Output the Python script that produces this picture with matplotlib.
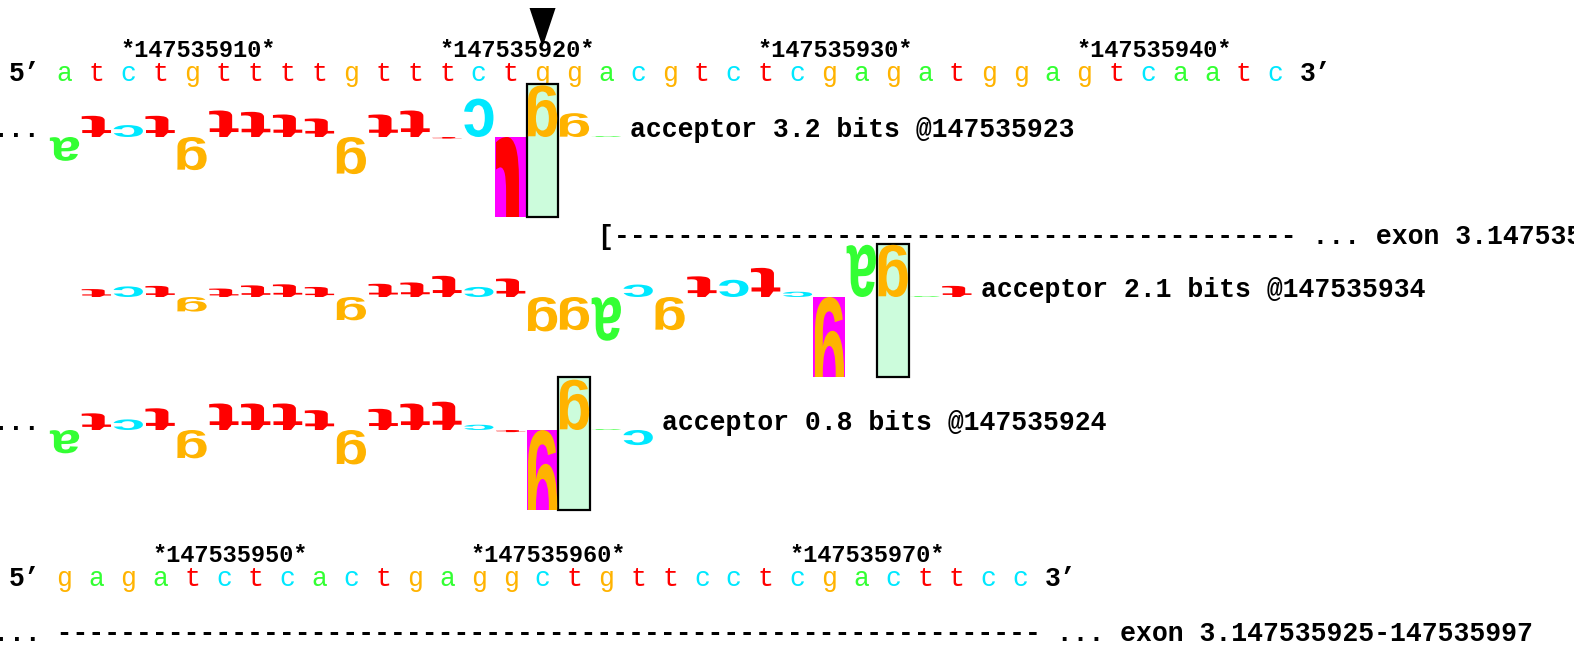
import matplotlib
matplotlib.use('Agg')
import matplotlib.pyplot as plt
from matplotlib.patches import PathPatch, Rectangle
from matplotlib.textpath import TextPath
from matplotlib.font_manager import FontProperties
from matplotlib.transforms import Affine2D

# sequence rows (coordinates of first base, ruler ticks)
row1_seq = 'atctgttttgtttctggacgtctcgagatggagtcaatc'
row1_start = 147535908
row1_ticks = [147535910, 147535920, 147535930, 147535940]
row2_seq = 'gagatctcactgaggctgttcctcgacttcc'
row2_start = 147535947
row2_ticks = [147535950, 147535960, 147535970]

variant_pos = 147535923

# walker letter heights in bits, one per base from row1_start on
walker1_bits = [-0.9, 0.8, 0.45, 0.8, -1.25, 1.0, 0.95, 0.85, 0.7, -1.4, 0.85, 1.0,
                -0.06, 1.45, -8.0, 1.95, 0.9, 0.03]
walker2_bits = [0.0, 0.3, 0.4, 0.42, -0.55, 0.32, 0.44, 0.48, 0.38, -0.88, 0.5, 0.55,
                0.8, 0.38, 0.7, -1.3, -1.25, -1.65, 0.47, -1.25, 0.78, 0.65, 1.1, 0.2,
                -4.5, 1.97, 1.97, 0.03, 0.42]
walker3_bits = [-0.88, 0.63, 0.4, 0.82, -1.07, 1.0, 1.0, 1.0, 0.75, -1.3, 0.8, 1.0,
                1.07, 0.2, -0.08, -4.5, 1.9, 0.03, -0.57]
walker_zero = [147535923, 147535934, 147535924]
walker_ri = [3.2, 2.1, 0.8]
walker_cut_left = [True, False, True]

exon_name = 'exon 3'
exon_start = 147535925
exon_end = 147535997

COLORS = {'a': '#33ff33', 'c': '#00e8ff', 'g': '#ffb300', 't': '#ff0000'}

# layout (pixels, y down)
X0 = 64.5
STEP = 31.87
CH = STEP / 2
PX_BIT = 26.5
ROW1_LABEL_Y, ROW1_SEQ_Y = 57, 81
ROW2_LABEL_Y, ROW2_SEQ_Y = 562, 586
EXON1_Y, EXON2_Y = 244, 641
WALKER_Y = [137, 297, 430]

MONO = ['Liberation Mono', 'DejaVu Sans Mono']
FS = CH / 0.6 * 72 / 100
LETTER_FONT = FontProperties(family='Liberation Sans', weight='bold')
GLYPHS = {b: TextPath((0, 0), b, size=100, prop=LETTER_FONT) for b in 'acgt'}


def xpos(i):
    return X0 + i * STEP


def draw_letter(ax, base, xc, y0, bits, clip=None):
    path = GLYPHS[base]
    ext = path.get_extents()
    h = abs(bits) * PX_BIT
    w = STEP * 0.92
    top = y0 - h if bits > 0 else y0
    # letters come out turned 180 degrees, as in the original walker picture
    tr = (Affine2D().translate(-ext.x0, -ext.y0)
          .scale(-w / ext.width, h / ext.height)
          .translate(xc + w / 2, top))
    p = PathPatch(tr.transform_path(path), fc=COLORS[base], ec='none', lw=0, zorder=4)
    ax.add_patch(p)
    if clip is not None:
        p.set_clip_path(clip)


def draw_row(ax, seq, start, ticks, label_y, seq_y):
    for t in ticks:
        ax.text(xpos(t - start) - CH / 2, label_y, '*%d*' % t, family=MONO,
                weight='bold', fontsize=17, ha='left', va='baseline')
    ax.text(xpos(0) - CH / 2 - 3 * CH, seq_y, '5\u2019', family=MONO, weight='bold',
            fontsize=FS, ha='left', va='baseline')
    for i, b in enumerate(seq):
        ax.text(xpos(i), seq_y, b, family=MONO, fontsize=FS, color=COLORS[b],
                ha='center', va='baseline')
    ax.text(xpos(len(seq)) - CH / 2, seq_y, '3\u2019', family=MONO, weight='bold',
            fontsize=FS, ha='left', va='baseline')


fig = plt.figure(figsize=(15.74, 6.55), dpi=100)
ax = fig.add_axes([0, 0, 1, 1])
ax.set_xlim(0, 1574)
ax.set_ylim(655, 0)
ax.axis('off')

draw_row(ax, row1_seq, row1_start, row1_ticks, ROW1_LABEL_Y, ROW1_SEQ_Y)
draw_row(ax, row2_seq, row2_start, row2_ticks, ROW2_LABEL_Y, ROW2_SEQ_Y)

# variant marker
xv = xpos(variant_pos - row1_start)
ax.fill([xv - 13, xv + 13, xv], [8, 8, 47], color='black', lw=0, zorder=5)

# walkers
for bits, zero, ri, cut, y0 in zip([walker1_bits, walker2_bits, walker3_bits],
                                    walker_zero, walker_ri, walker_cut_left, WALKER_Y):
    zi = zero - row1_start
    ax.add_patch(Rectangle((xpos(zi) - STEP / 2, y0 - 2 * PX_BIT), STEP, 5 * PX_BIT,
                           fc='#ccfcdc', ec='black', lw=1.6, zorder=3))
    for i, v in enumerate(bits):
        if v == 0:
            continue
        base = row1_seq[i]
        clip = None
        if v < -3:
            # off-scale negative letter: magenta cell, letter clipped to it
            clip = Rectangle((xpos(i) - STEP / 2, y0), STEP, 3 * PX_BIT,
                             fc='#ff00ff', ec='none', zorder=2)
            ax.add_patch(clip)
        draw_letter(ax, base, xpos(i), y0, v, clip)
    if cut:
        ax.text(xpos(0) - CH / 2 - 4 * CH, y0, '...', family=MONO, weight='bold',
                fontsize=FS, ha='left', va='baseline')
    ax.text(xpos(len(bits)) - CH / 2, y0, 'acceptor %.1f bits @%d' % (ri, zero),
            family=MONO, weight='bold', fontsize=FS, ha='left', va='baseline')

# exon bars
exon_tail = ' ... %s.%d-%d' % (exon_name, exon_start, exon_end)
n1 = (row1_start + len(row1_seq) - 1 - exon_start) * 2 + 1
ax.text(xpos(exon_start - row1_start) - CH / 2, EXON1_Y, '[' + '-' * n1 + exon_tail,
        family=MONO, weight='bold', fontsize=FS, ha='left', va='baseline')
ax.text(xpos(0) - CH / 2 - 4 * CH, EXON2_Y, '... ' + '-' * (len(row2_seq) * 2) + exon_tail,
        family=MONO, weight='bold', fontsize=FS, ha='left', va='baseline')

fig.savefig('out.png', dpi=100)
